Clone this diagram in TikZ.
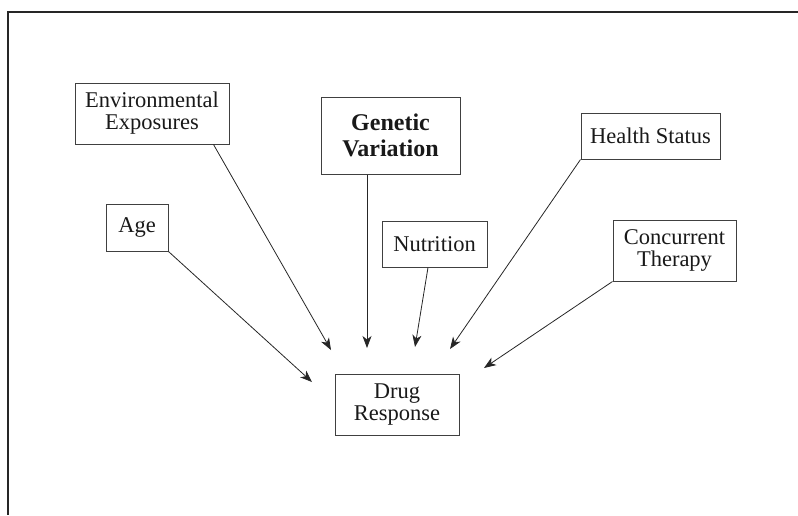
\documentclass[tikz,border=0pt]{standalone}
\usepackage{fontspec}
\setmainfont{Liberation Serif}
\usetikzlibrary{arrows.meta,calc}
\begin{document}
\begin{tikzpicture}[x=1pt,y=-1pt,
  box/.style={draw=black!75, line width=1pt, inner sep=0pt, align=center,
    font=\fontsize{22.5}{22}\selectfont, text=black!90},
  bbox/.style={box, font=\fontsize{24}{26}\selectfont\bfseries},
  conn/.style={draw=black!85, line width=0.8pt, -{Stealth[length=12pt,width=9pt,inset=3.5pt]}}]
\useasboundingbox (0,0) rectangle (798,515);
\draw[line width=1.4pt, black!85] (798,12) -- (8,12) -- (8,515);
% boxes
\node[box, minimum width=154pt, minimum height=61pt] (env) at (152,113.5) {Environmental\\Exposures};
\node[bbox, minimum width=139pt, minimum height=77pt] (gen) at (390.5,135.5) {Genetic\\Variation};
\node[box, minimum width=139pt, minimum height=46pt] (hs) at (650.5,136) {Health Status};
\node[box, minimum width=62pt, minimum height=47pt] (age) at (137,227.5) {Age};
\node[box, minimum width=105pt, minimum height=46pt] (nut) at (434.5,244) {Nutrition};
\node[box, minimum width=123pt, minimum height=61pt] (ct) at (674.5,250.5) {Concurrent\\Therapy};
\node[box, minimum width=124pt, minimum height=61pt] (dr) at (397,404.5) {Drug\\Response};
% arrow tips
\coordinate (tEnv) at (331,350);
\coordinate (tAge) at (312,382);
\coordinate (tGen) at (367,348);
\coordinate (tNut) at (415,347);
\coordinate (tHs) at (450,349);
\coordinate (tCt) at (484,368);
% connectors
\draw[conn] ($(env.south east)+(-16,0)$) -- (tEnv);
\draw[conn] (age.south east) -- (tAge);
\draw[conn] ($(gen.south)+(-23.5,0)$) -- (tGen);
\draw[conn] ($(nut.south)+(-6.5,0)$) -- (tNut);
\draw[conn] (hs.south west) -- (tHs);
\draw[conn] (ct.south west) -- (tCt);
\end{tikzpicture}
\end{document}
